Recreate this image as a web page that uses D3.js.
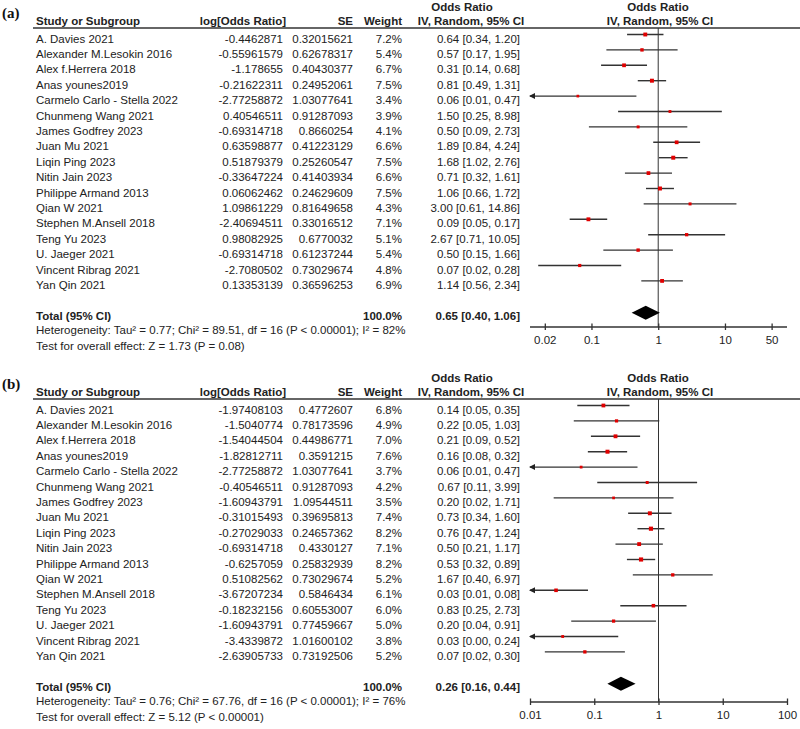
<!DOCTYPE html>
<html>
<head>
<meta charset="utf-8">
<script src="https://cdn.jsdelivr.net/npm/d3@7"></script>
<style>
  body { margin: 0; background: #fff; }
  svg text { font-family: "Liberation Sans", Arial, sans-serif; font-size: 11.5px; fill: #222; }
  .bold { font-weight: bold; }
  .panel-label { font-family: "Liberation Serif", "Times New Roman", serif; font-size: 15px; font-weight: bold; fill: #111; }
</style>
</head>
<body>
<div id="chart"></div>
<script>
const width = 800,
  height = 729;

const studies = [
  "A. Davies 2021", "Alexander M.Lesokin 2016", "Alex f.Herrera 2018", "Anas younes2019",
  "Carmelo Carlo - Stella 2022", "Chunmeng Wang 2021", "James Godfrey 2023", "Juan Mu 2021",
  "Liqin Ping 2023", "Nitin Jain 2023", "Philippe Armand 2013", "Qian W 2021",
  "Stephen M.Ansell 2018", "Teng Yu 2023", "U. Jaeger 2021", "Vincent Ribrag 2021", "Yan Qin 2021"
];

// panel (a)
const logOrA = ["-0.4462871", "-0.55961579", "-1.178655", "-0.21622311", "-2.77258872", "0.40546511",
  "-0.69314718", "0.63598877", "0.51879379", "-0.33647224", "0.06062462", "1.09861229",
  "-2.40694511", "0.98082925", "-0.69314718", "-2.7080502", "0.13353139"];
const seA = ["0.32015621", "0.62678317", "0.40430377", "0.24952061", "1.03077641", "0.91287093",
  "0.8660254", "0.41223129", "0.25260547", "0.41403934", "0.24629609", "0.81649658",
  "0.33016512", "0.6770032", "0.61237244", "0.73029674", "0.36596253"];
const weightA = [7.2, 5.4, 6.7, 7.5, 3.4, 3.9, 4.1, 6.6, 7.5, 6.6, 7.5, 4.3, 7.1, 5.1, 5.4, 4.8, 6.9];
const ciTextA = ["0.64 [0.34, 1.20]", "0.57 [0.17, 1.95]", "0.31 [0.14, 0.68]", "0.81 [0.49, 1.31]",
  "0.06 [0.01, 0.47]", "1.50 [0.25, 8.98]", "0.50 [0.09, 2.73]", "1.89 [0.84, 4.24]",
  "1.68 [1.02, 2.76]", "0.71 [0.32, 1.61]", "1.06 [0.66, 1.72]", "3.00 [0.61, 14.86]",
  "0.09 [0.05, 0.17]", "2.67 [0.71, 10.05]", "0.50 [0.15, 1.66]", "0.07 [0.02, 0.28]", "1.14 [0.56, 2.34]"];
const totalA = [0.65, 0.40, 1.06];
const ticksA = [0.02, 0.1, 1, 10, 50];
const hetA = "Heterogeneity: Tau\u00b2 = 0.77; Chi\u00b2 = 89.51, df = 16 (P < 0.00001); I\u00b2 = 82%";
const testA = "Test for overall effect: Z = 1.73 (P = 0.08)";

// panel (b)
const logOrB = ["-1.97408103", "-1.5040774", "-1.54044504", "-1.82812711", "-2.77258872", "-0.40546511",
  "-1.60943791", "-0.31015493", "-0.27029033", "-0.69314718", "-0.6257059", "0.51082562",
  "-3.67207234", "-0.18232156", "-1.60943791", "-3.4339872", "-2.63905733"];
const seB = ["0.4772607", "0.78173596", "0.44986771", "0.3591215", "1.03077641", "0.91287093",
  "1.09544511", "0.39695813", "0.24657362", "0.4330127", "0.25832939", "0.73029674",
  "0.5846434", "0.60553007", "0.77459667", "1.01600102", "0.73192506"];
const weightB = [6.8, 4.9, 7.0, 7.6, 3.7, 4.2, 3.5, 7.4, 8.2, 7.1, 8.2, 5.2, 6.1, 6.0, 5.0, 3.8, 5.2];
const ciTextB = ["0.14 [0.05, 0.35]", "0.22 [0.05, 1.03]", "0.21 [0.09, 0.52]", "0.16 [0.08, 0.32]",
  "0.06 [0.01, 0.47]", "0.67 [0.11, 3.99]", "0.20 [0.02, 1.71]", "0.73 [0.34, 1.60]",
  "0.76 [0.47, 1.24]", "0.50 [0.21, 1.17]", "0.53 [0.32, 0.89]", "1.67 [0.40, 6.97]",
  "0.03 [0.01, 0.08]", "0.83 [0.25, 2.73]", "0.20 [0.04, 0.91]", "0.03 [0.00, 0.24]", "0.07 [0.02, 0.30]"];
const totalB = [0.26, 0.16, 0.44];
const ticksB = [0.01, 0.1, 1, 10, 100];
const hetB = "Heterogeneity: Tau\u00b2 = 0.76; Chi\u00b2 = 67.76, df = 16 (P < 0.00001); I\u00b2 = 76%";
const testB = "Test for overall effect: Z = 5.12 (P < 0.00001)";

const svg = d3
  .select("#chart")
  .append("svg")
  .attr("width", width)
  .attr("height", height);

function drawPanel(p) {
  const g = svg.append("g");
  const y0 = p.top; // header underline
  const x = d3.scaleLog().domain(p.domain).range([530, 787]);
  const rowY = d3.scaleLinear().domain([0, 1]).range([y0 + 10.5, y0 + 10.5 + 15.4]);
  const n = studies.length;
  const totalY = rowY(n + 1);

  g.append("text").attr("class", "panel-label").attr("x", 2).attr("y", y0 - 10).text(p.label);

  // headers
  const h1 = y0 - 17, h2 = y0 - 3.5;
  g.append("text").attr("class", "bold").attr("x", 462).attr("y", h1).attr("text-anchor", "middle").text("Odds Ratio");
  g.append("text").attr("class", "bold").attr("x", 658).attr("y", h1).attr("text-anchor", "middle").text("Odds Ratio");
  g.append("text").attr("class", "bold").attr("x", 36).attr("y", h2).text("Study or Subgroup");
  g.append("text").attr("class", "bold").attr("x", 286).attr("y", h2).attr("text-anchor", "end").text("log[Odds Ratio]");
  g.append("text").attr("class", "bold").attr("x", 353).attr("y", h2).attr("text-anchor", "end").text("SE");
  g.append("text").attr("class", "bold").attr("x", 402).attr("y", h2).attr("text-anchor", "end").text("Weight");
  g.append("text").attr("class", "bold").attr("x", 471).attr("y", h2).attr("text-anchor", "middle").text("IV, Random, 95% CI");
  g.append("text").attr("class", "bold").attr("x", 660).attr("y", h2).attr("text-anchor", "middle").text("IV, Random, 95% CI");

  g.append("line")
    .attr("x1", 33).attr("x2", 800).attr("y1", y0).attr("y2", y0)
    .attr("stroke", "#333").attr("stroke-width", 1.3);

  // vertical line of no effect
  g.append("line")
    .attr("x1", x(1)).attr("x2", x(1)).attr("y1", y0).attr("y2", p.axisY)
    .attr("stroke", "#333").attr("stroke-width", 1);

  const rows = studies.map((s, i) => ({
    name: s, lor: p.lor[i], se: p.se[i], w: p.w[i], ci: p.ci[i], i: i
  }));

  const row = g.selectAll(".row").data(rows).enter().append("g").attr("class", "row");
  row.append("text").attr("x", 36).attr("y", (d) => rowY(d.i) + 4).text((d) => d.name);
  row.append("text").attr("x", 283).attr("y", (d) => rowY(d.i) + 4).attr("text-anchor", "end").text((d) => d.lor);
  row.append("text").attr("x", 353).attr("y", (d) => rowY(d.i) + 4).attr("text-anchor", "end").text((d) => d.se);
  row.append("text").attr("x", 402).attr("y", (d) => rowY(d.i) + 4).attr("text-anchor", "end").text((d) => d.w.toFixed(1) + "%");
  row.append("text").attr("x", 520).attr("y", (d) => rowY(d.i) + 4).attr("text-anchor", "end").text((d) => d.ci);

  const lo = x.domain()[0], hi = x.domain()[1];
  row.each(function (d) {
    const el = d3.select(this);
    const l = +d.lor, s = +d.se;
    const cLo = Math.exp(l - 1.96 * s), cHi = Math.exp(l + 1.96 * s), est = Math.exp(l);
    const cy = rowY(d.i) - 4;
    const xa = x(Math.max(cLo, lo)), xb = x(Math.min(cHi, hi));
    el.append("line")
      .attr("x1", xa).attr("x2", xb).attr("y1", cy).attr("y2", cy)
      .attr("stroke", "#333").attr("stroke-width", 1.4);
    if (cLo < lo) {
      el.append("path")
        .attr("d", `M${xa - 1},${cy} L${xa + 5},${cy - 3} L${xa + 5},${cy + 3} Z`)
        .attr("fill", "#222");
    }
    const side = Math.sqrt(d.w) * 1.45;
    el.append("rect")
      .attr("x", x(est) - side / 2).attr("y", cy - side / 2)
      .attr("width", side).attr("height", side)
      .attr("fill", "#e00000");
  });

  // total
  g.append("text").attr("class", "bold").attr("x", 36).attr("y", totalY + 4).text("Total (95% CI)");
  g.append("text").attr("class", "bold").attr("x", 402).attr("y", totalY + 4).attr("text-anchor", "end").text("100.0%");
  g.append("text").attr("class", "bold").attr("x", 520).attr("y", totalY + 4).attr("text-anchor", "end")
    .text(`${p.total[0].toFixed(2)} [${p.total[1].toFixed(2)}, ${p.total[2].toFixed(2)}]`);
  const dy = totalY - 3;
  g.append("path")
    .attr("d", `M${x(p.total[1])},${dy} L${x(p.total[0])},${dy - 7} L${x(p.total[2])},${dy} L${x(p.total[0])},${dy + 7} Z`)
    .attr("fill", "#000");

  g.append("text").attr("x", 36).attr("y", totalY + 18.5).text(p.het);
  g.append("text").attr("x", 36).attr("y", totalY + 34).text(p.test);

  // axis
  const axis = d3.axisBottom(x).tickValues(p.ticks).tickFormat((d) => String(d)).tickSize(3).tickPadding(6);
  const ax = g.append("g").attr("transform", `translate(0,${p.axisY})`).call(axis);
  ax.select(".domain").remove();
  ax.append("line").attr("x1", 530).attr("x2", 787).attr("stroke", "#333").attr("stroke-width", 1.3);
  ax.selectAll(".tick line").attr("y1", -3.5).attr("y2", 3).attr("stroke", "#333").attr("stroke-width", 1.3);
  ax.selectAll(".tick text")
    .style("font-family", '"Liberation Sans", Arial, sans-serif')
    .style("font-size", "11.5px")
    .attr("fill", "#222");
}

drawPanel({
  label: "(a)", top: 28, axisY: 327, domain: [0.012, 85], ticks: ticksA,
  lor: logOrA, se: seA, w: weightA, ci: ciTextA, total: totalA, het: hetA, test: testA
});
drawPanel({
  label: "(b)", top: 399, axisY: 702, domain: [0.01, 100], ticks: ticksB,
  lor: logOrB, se: seB, w: weightB, ci: ciTextB, total: totalB, het: hetB, test: testB
});
</script>
</body>
</html>
